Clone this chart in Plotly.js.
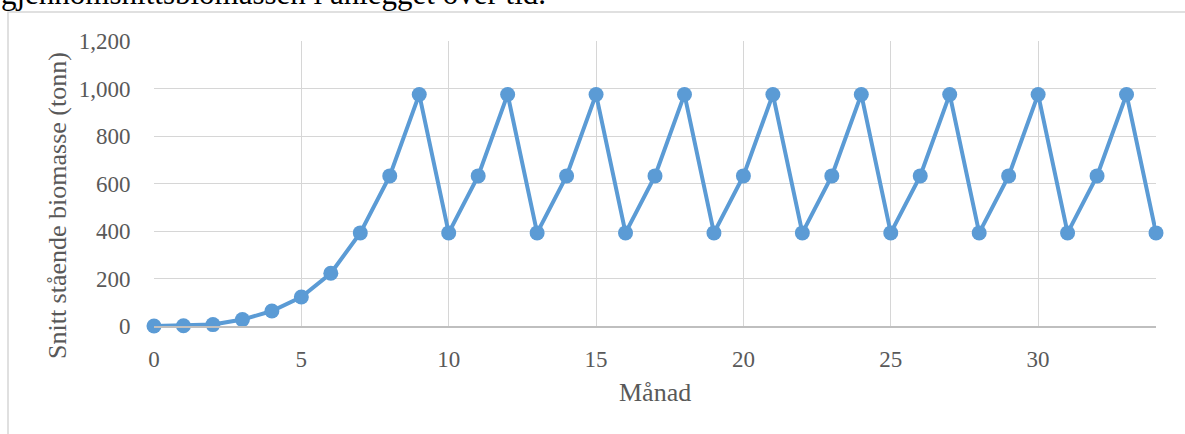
<!DOCTYPE html>
<html>
<head>
<meta charset="utf-8">
<script src="https://cdn.plot.ly/plotly-3.0.1.min.js"></script>
<style>
  html, body { margin: 0; padding: 0; background: #ffffff; }
  #chart { width: 1185px; height: 434px; }
</style>
</head>
<body>
<div id="chart"></div>
<script>
// Monthly average standing biomass (tonnes)
const months = [0, 1, 2, 3, 4, 5, 6, 7, 8, 9, 10, 11, 12, 13, 14, 15, 16, 17,
                18, 19, 20, 21, 22, 23, 24, 25, 26, 27, 28, 29, 30, 31, 32, 33, 34];
const biomass = [0, 1, 6, 27, 63, 122, 222, 392, 632,
                 975, 392, 632, 975, 392, 632, 975, 392, 632,
                 975, 392, 632, 975, 392, 632, 975, 392, 632,
                 975, 392, 632, 975, 392, 632, 975, 392];
const yTickVals = [0, 200, 400, 600, 800, 1000, 1200];
const xTickVals = [0, 5, 10, 15, 20, 25, 30];

const captionText = 'gjennomsnittsbiomassen i anlegget over tid.';
const xTitle = 'Månad';
const yTitle = 'Snitt stående biomasse (tonn)';

const serif = '"Liberation Serif", "Times New Roman", serif';
const grey = '#595959';
const gridCol = '#d6d6d6';

const trace = {
  x: months,
  y: biomass,
  type: 'scatter',
  mode: 'lines+markers',
  line: { color: '#5b9bd5', width: 4 },
  marker: { color: '#5b9bd5', size: 15 },
  cliponaxis: false,
  hoverinfo: 'x+y'
};

const layout = {
  width: 1185,
  height: 434,
  margin: { l: 154, r: 29, t: 41, b: 108 },
  paper_bgcolor: '#ffffff',
  plot_bgcolor: '#ffffff',
  showlegend: false,
  font: { family: serif, color: grey, size: 22 },
  xaxis: {
    range: [0, 34],
    tickvals: xTickVals,
    ticktext: xTickVals.map(String),
    showgrid: true,
    gridcolor: gridCol,
    gridwidth: 1,
    zeroline: false,
    showline: true,
    linecolor: '#bfbfbf',
    linewidth: 1.5,
    ticks: 'outside',
    ticklen: 12,
    tickcolor: 'rgba(0,0,0,0)',
    tickfont: { family: serif, size: 23, color: grey },
    fixedrange: true
  },
  yaxis: {
    range: [0, 1200],
    tickvals: yTickVals,
    tickformat: ',d',
    showgrid: true,
    gridcolor: gridCol,
    gridwidth: 1,
    zeroline: false,
    showline: false,
    ticks: 'outside',
    ticklen: 18,
    tickcolor: 'rgba(0,0,0,0)',
    tickfont: { family: serif, size: 23, color: grey },
    fixedrange: true
  },
  shapes: [
    // outer chart frame (left and top edges)
    {
      type: 'rect', xref: 'paper', yref: 'paper', layer: 'below',
      x0: -0.1457, x1: 1.2, y0: -0.6, y1: 1.1018,
      line: { color: gridCol, width: 1.5 }, fillcolor: 'rgba(0,0,0,0)'
    }
  ],
  annotations: [
    {
      text: captionText, xref: 'paper', yref: 'paper',
      x: -0.1537, y: 1.1018, xanchor: 'left', yanchor: 'bottom',
      showarrow: false, borderpad: 0,
      font: { family: serif, size: 31, color: '#000000' }
    },
    {
      text: xTitle, xref: 'paper', yref: 'paper',
      x: 0.5, y: -0.2316, xanchor: 'center', yanchor: 'middle',
      showarrow: false,
      font: { family: serif, size: 26, color: grey }
    },
    {
      text: yTitle, xref: 'paper', yref: 'paper',
      x: -0.0968, y: 0.421, xanchor: 'center', yanchor: 'middle',
      textangle: -90, showarrow: false,
      font: { family: serif, size: 26, color: grey }
    }
  ]
};

Plotly.newPlot('chart', [trace], layout, { displayModeBar: false, staticPlot: true });
</script>
</body>
</html>
